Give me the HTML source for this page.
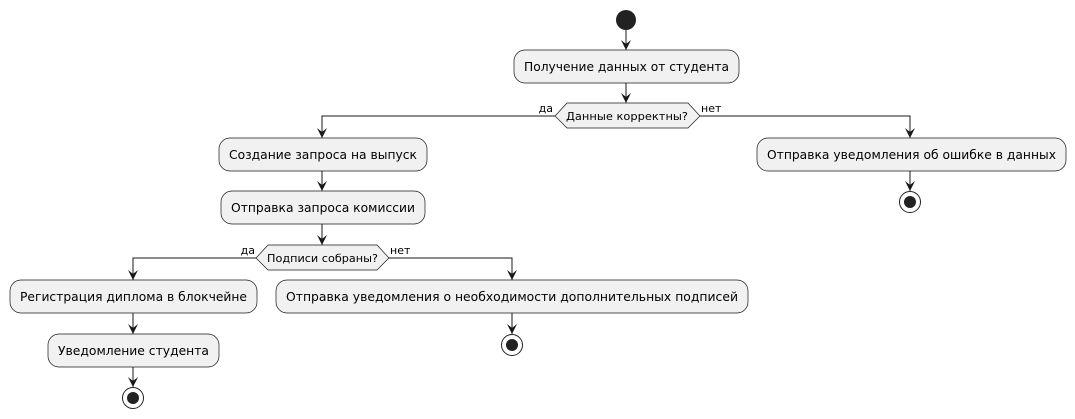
<!DOCTYPE html>
<html><head><meta charset="utf-8"><style>body{margin:0;background:#fff}svg{display:block}</style></head><body>
<svg width="1075" height="419" xmlns="http://www.w3.org/2000/svg" font-family="DejaVu Sans, Liberation Sans, sans-serif">
<defs><marker id="a" viewBox="0 0 10 10" refX="10" refY="5" markerWidth="10" markerHeight="10" markerUnits="userSpaceOnUse" orient="auto"><path d="M0,0 L10,5 L0,10 L4,5 Z" fill="#181818"/></marker></defs>
<g fill="#F1F1F1" stroke="#181818" stroke-width="0.7">
<rect x="514" y="50" width="225" height="33" rx="11"/>
<rect x="219" y="138" width="208" height="33" rx="11"/>
<rect x="757" y="138" width="309" height="33" rx="11"/>
<rect x="221" y="191" width="204" height="33" rx="11"/>
<rect x="10" y="280" width="247" height="33" rx="11"/>
<rect x="276" y="280" width="472" height="33" rx="11"/>
<rect x="48" y="334" width="171" height="33" rx="11"/>
<polygon points="555,116 567,103 688,103 700,116 688,128 567,128"/>
<polygon points="256,258 268,245 377,245 389,258 377,270 268,270"/>
</g>
<circle cx="626" cy="20" r="10" fill="#222"/>
<g fill="none" stroke="#222"><circle cx="910" cy="202" r="10.5" stroke-width="1"/><circle cx="512" cy="345" r="10.5"/><circle cx="133" cy="398" r="10.5"/></g>
<g fill="#222"><circle cx="910" cy="202" r="6"/><circle cx="512" cy="345" r="6"/><circle cx="133" cy="398" r="6"/></g>
<g stroke="#181818" fill="none" stroke-width="1" marker-end="url(#a)">
<path d="M626,30 V50"/><path d="M626,83 V103"/>
<path d="M555,116 H322 V138"/><path d="M700,116 H910 V138"/>
<path d="M910,171 V191"/>
<path d="M322,171 V191"/><path d="M322,224 V245"/>
<path d="M256,258 H133 V280"/><path d="M389,258 H512 V280"/>
<path d="M512,313 V334"/><path d="M133,313 V334"/><path d="M133,367 V387"/>
</g>
<g font-size="12.5" fill="#000" lengthAdjust="spacingAndGlyphs">
<text x="524" y="71" textLength="205" lengthAdjust="spacingAndGlyphs">Получение данных от студента</text>
<text x="229" y="159" textLength="188" lengthAdjust="spacingAndGlyphs">Создание запроса на выпуск</text>
<text x="767" y="159" textLength="289" lengthAdjust="spacingAndGlyphs">Отправка уведомления об ошибке в данных</text>
<text x="231" y="212" textLength="184" lengthAdjust="spacingAndGlyphs">Отправка запроса комиссии</text>
<text x="20" y="301" textLength="227" lengthAdjust="spacingAndGlyphs">Регистрация диплома в блокчейне</text>
<text x="286" y="301" textLength="452" lengthAdjust="spacingAndGlyphs">Отправка уведомления о необходимости дополнительных подписей</text>
<text x="58" y="355" textLength="151" lengthAdjust="spacingAndGlyphs">Уведомление студента</text>
</g>
<g font-size="11" fill="#000">
<text x="566" y="120" textLength="122" lengthAdjust="spacingAndGlyphs">Данные корректны?</text>
<text x="267" y="262" textLength="111" lengthAdjust="spacingAndGlyphs">Подписи собраны?</text>
<text x="553" y="112" text-anchor="end">да</text>
<text x="701" y="112">нет</text>
<text x="255" y="254" text-anchor="end">да</text>
<text x="390" y="254">нет</text>
</g>
</svg>
</body></html>
